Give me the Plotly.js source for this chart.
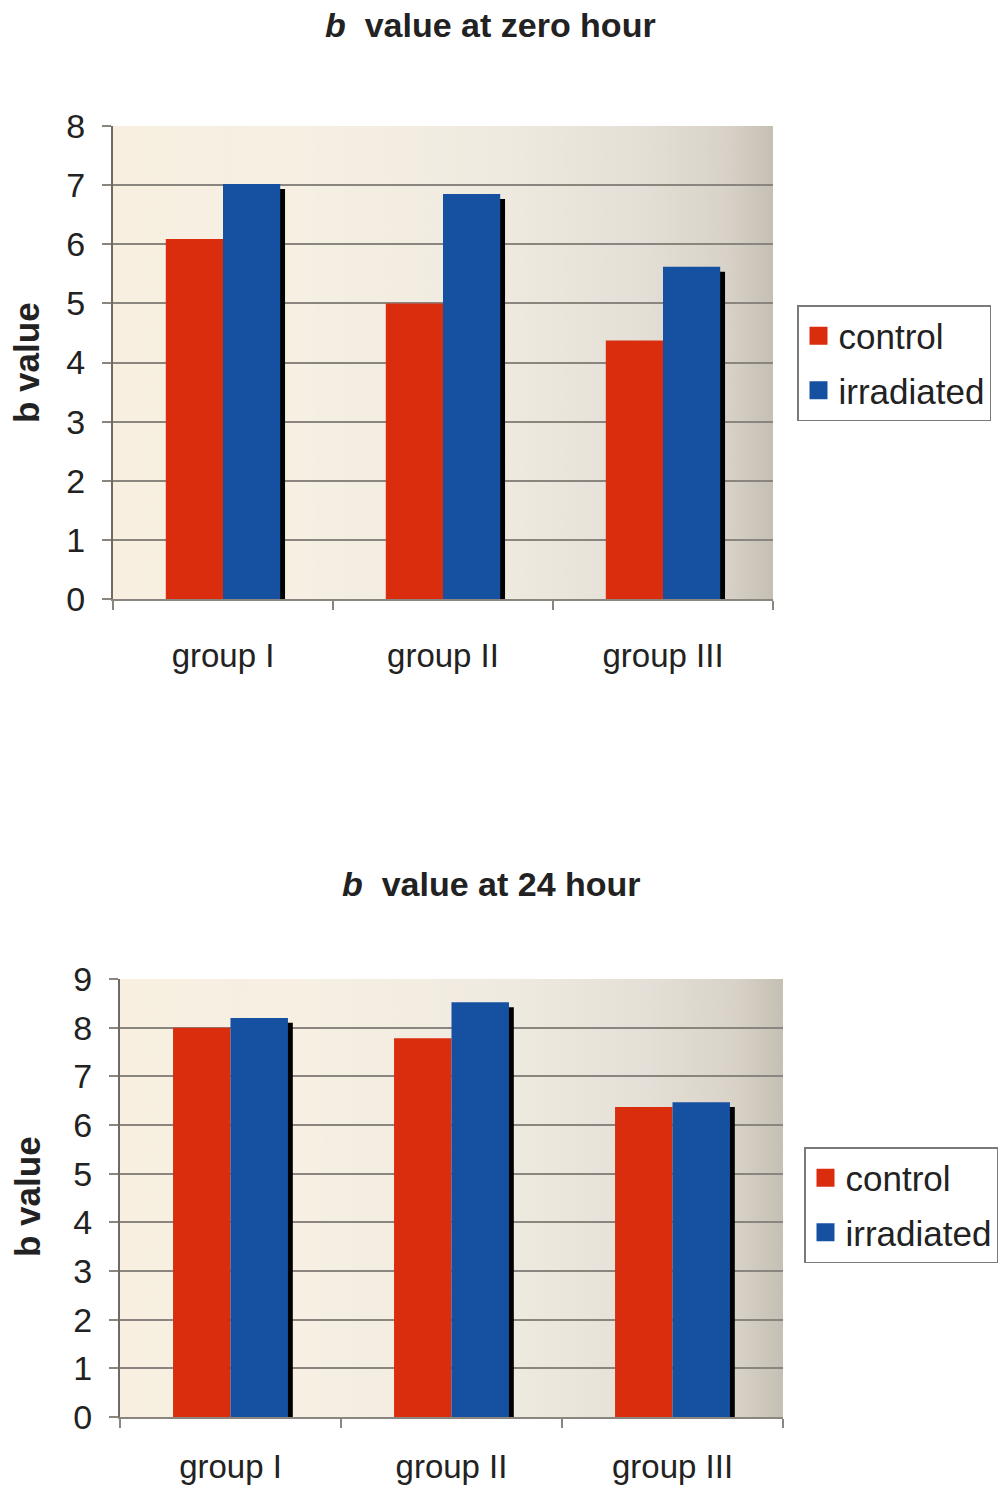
<!DOCTYPE html>
<html>
<head>
<meta charset="utf-8">
<script src="https://cdn.plot.ly/plotly-3.0.1.min.js"></script>
<style>html,body{margin:0;padding:0;background:#fff}#chart{width:1001px;height:1490px}</style>
</head>
<body>
<div id="chart"></div>
<script>
// ---- data ----
const categories = ['group I', 'group II', 'group III'];
const seriesNames = ['control', 'irradiated'];
const control0 = [6.09, 5.0, 4.37];
const irradiated0 = [7.02, 6.85, 5.62];
const control24 = [8.0, 7.78, 6.37];
const irradiated24 = [8.2, 8.52, 6.47];
const yTicks0 = [0, 1, 2, 3, 4, 5, 6, 7, 8];
const yTicks24 = [0, 1, 2, 3, 4, 5, 6, 7, 8, 9];
const titles = ['<i>b</i>\u00a0\u00a0value at zero hour', '<i>b</i>\u00a0\u00a0value at 24 hour'];
const yTitle = 'b value';

// ---- style ----
const W = 1001, H = 1490;
const RED = '#d92d0d', BLUE = '#1650a0';
const FONT = 'Liberation Sans, Arial, sans-serif';
const TXT = '#222222';
const GRID = '#8a857e';
const px2x = p => p / W;
const px2y = p => 1 - p / H;
const dom1x = [px2x(113), px2x(773)], dom1y = [px2y(599), px2y(126)];
const dom2x = [px2x(120), px2x(783)], dom2y = [px2y(1417), px2y(979)];
const BW = 0.26;

function gradient() {
  const c = document.createElement('canvas');
  c.width = 600; c.height = 400;
  const g = c.getContext('2d');
  const lg = g.createLinearGradient(0, 0, 600, 0);
  lg.addColorStop(0, '#f8efe0');
  lg.addColorStop(0.3, '#f6efe3');
  lg.addColorStop(0.6, '#efeae0');
  lg.addColorStop(0.8, '#e5e0d7');
  lg.addColorStop(0.93, '#d8d2c8');
  lg.addColorStop(1, '#c6bfb4');
  g.fillStyle = lg; g.fillRect(0, 0, 600, 400);
  return c.toDataURL('image/png');
}
const grad = gradient();

function traces(ctrl, irr, xa, ya, leg, drop) {
  return [
    {type: 'bar', x: categories, y: irr.map(v => v - drop), xaxis: xa, yaxis: ya,
     marker: {color: '#000000'}, width: BW, offset: 0.022, showlegend: false, hoverinfo: 'skip', legend: leg},
    {type: 'bar', name: seriesNames[0], x: categories, y: ctrl, xaxis: xa, yaxis: ya,
     marker: {color: RED}, width: BW, offset: -BW, legend: leg, legendgroup: 'c' + leg},
    {type: 'bar', name: seriesNames[1], x: categories, y: irr, xaxis: xa, yaxis: ya,
     marker: {color: BLUE}, width: BW, offset: 0, legend: leg, legendgroup: 'i' + leg}
  ];
}

const data = [
  ...traces(control0, irradiated0, 'x', 'y', 'legend', 0.085),
  ...traces(control24, irradiated24, 'x2', 'y2', 'legend2', 0.1)
];

function xaxis(dom, anchor, standoff) {
  return {domain: dom, anchor: anchor, type: 'category', showline: true, linecolor: GRID, linewidth: 2,
    ticks: 'outside', tickson: 'boundaries', ticklen: 9, tickwidth: 2, tickcolor: GRID,
    showgrid: false, ticklabelstandoff: standoff, fixedrange: true,
    tickfont: {family: FONT, size: 33, color: TXT}};
}
function yaxis(dom, anchor, ticks) {
  return {domain: dom, anchor: anchor, range: [0, ticks[ticks.length - 1]], tickmode: 'array',
    tickvals: ticks, ticktext: ticks.map(String), showline: true, linecolor: '#6f6a64', linewidth: 2,
    ticks: 'outside', ticklen: 9, tickwidth: 2, tickcolor: GRID, showgrid: true, gridcolor: GRID,
    gridwidth: 2, zeroline: false, ticklabelstandoff: 10, fixedrange: true,
    tickfont: {family: FONT, size: 34, color: TXT}};
}
function legend(x, y, anchor) {
  return {x: x, y: y, xanchor: anchor, yanchor: 'top', bgcolor: '#ffffff', bordercolor: '#7a7a7a',
    borderwidth: 1.5, traceorder: 'grouped', tracegroupgap: 6,
    font: {family: FONT, size: 35, color: TXT}};
}
function img(dx, dy) {
  return {source: grad, xref: 'paper', yref: 'paper', x: dx[0], y: dy[1], sizex: dx[1] - dx[0],
    sizey: dy[1] - dy[0], xanchor: 'left', yanchor: 'top', sizing: 'stretch', layer: 'below'};
}
function ann(text, x, y, size, angle) {
  return {text: text, xref: 'paper', yref: 'paper', x: x, y: y, xanchor: 'center', yanchor: 'middle',
    showarrow: false, textangle: angle, font: {family: FONT, size: size, color: TXT, weight: 'bold'}};
}

const layout = {
  width: W, height: H, margin: {l: 0, r: 0, t: 0, b: 0, autoexpand: false},
  paper_bgcolor: '#ffffff', plot_bgcolor: 'rgba(0,0,0,0)',
  barmode: 'overlay', showlegend: true,
  xaxis: xaxis(dom1x, 'y', 26), yaxis: yaxis(dom1y, 'x', yTicks0),
  xaxis2: xaxis(dom2x, 'y2', 19), yaxis2: yaxis(dom2y, 'x2', yTicks24),
  legend: legend(px2x(797), px2y(305), 'left'),
  legend2: legend(px2x(998), px2y(1147), 'right'),
  images: [img(dom1x, dom1y), img(dom2x, dom2y)],
  annotations: [
    ann(titles[0], px2x(490), px2y(25), 34, 0),
    ann(titles[1], px2x(491), px2y(884), 34, 0),
    ann(yTitle, px2x(27), px2y(363), 35, -90),
    ann(yTitle, px2x(27), px2y(1197), 35, -90)
  ]
};

Plotly.newPlot('chart', data, layout, {displayModeBar: false, staticPlot: true}).then(() => {
  document.querySelectorAll('.legendpoints path').forEach(p => p.setAttribute('d', 'M9,9H-9V-9H9Z'));
});
</script>
</body>
</html>
